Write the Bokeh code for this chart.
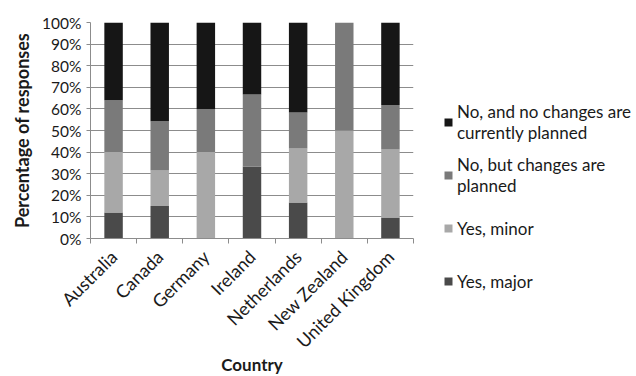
from bokeh.plotting import figure
from bokeh.models import Range1d, FixedTicker, PrintfTickFormatter, Legend, LegendItem
from bokeh.embed import file_html
from bokeh.resources import INLINE
import math

countries = ["Australia", "Canada", "Germany", "Ireland", "Netherlands", "New Zealand", "United Kingdom"]
yes_major = [12, 15, 0, 33.3, 16.7, 0, 9.7]
yes_minor = [28, 16.5, 40, 0, 25, 50, 31.5]
no_planned = [24, 22.8, 20, 33.4, 16.6, 50, 20.6]
no_none = [36, 45.7, 40, 33.3, 41.7, 0, 38.2]
y_ticks = list(range(0, 101, 10))

series = ["yes_major", "yes_minor", "no_planned", "no_none"]
labels = ["Yes, major", "Yes, minor", "No, but changes are\nplanned", "No, and no changes are\ncurrently planned"]
colors = ["#4a4a4a", "#a8a8a8", "#7a7a7a", "#161616"]

FONT = "Lato"
x = [i + 0.5 for i in range(len(countries))]
data = dict(x=x, yes_major=yes_major, yes_minor=yes_minor, no_planned=no_planned, no_none=no_none)

p = figure(frame_width=323, frame_height=216, output_backend="svg", toolbar_location=None,
           x_range=Range1d(0, len(countries)), y_range=Range1d(0, 100),
           min_border_left=90, min_border_right=223, min_border_top=22, min_border_bottom=138)
p.outline_line_color = None

rs = p.vbar_stack(series, x="x", width=0.4, color=colors, line_color=None, source=data)

items = [LegendItem(label=labels[i], renderers=[rs[i]]) for i in reversed(range(4))]
legend = Legend(items=items, location=(30, -66), padding=0, margin=0,
                border_line_color=None, background_fill_alpha=0,
                label_text_font=FONT, label_text_font_size="17px", label_text_color="#1a1a1a",
                glyph_width=10, glyph_height=10, label_standoff=4, spacing=7, label_height=46,
                label_text_line_height=1.4)
p.add_layout(legend, "right")

p.xgrid.grid_line_color = None
p.ygrid.grid_line_color = "#8c8c8c"
p.ygrid.ticker = FixedTicker(ticks=y_ticks)

xa = p.xaxis[0]
xa.ticker = FixedTicker(ticks=x, minor_ticks=list(range(len(countries) + 1)))
xa.major_label_overrides = {xi: c for xi, c in zip(x, countries)}
xa.major_label_orientation = math.pi / 4
xa.major_label_standoff = 10
xa.major_tick_out = 0
xa.major_tick_in = 0
xa.minor_tick_out = 5
xa.minor_tick_in = 0
xa.minor_tick_line_color = "#8c8c8c"
xa.axis_line_color = "#8c8c8c"
xa.major_label_text_font = FONT
xa.major_label_text_font_size = "18px"
xa.major_label_text_color = "#1a1a1a"
xa.axis_label = "Country"
xa.axis_label_text_font = FONT
xa.axis_label_text_font_size = "17px"
xa.axis_label_text_font_style = "bold"
xa.axis_label_text_color = "#1a1a1a"
xa.axis_label_standoff = -9

ya = p.yaxis[0]
ya.ticker = FixedTicker(ticks=y_ticks)
ya.formatter = PrintfTickFormatter(format="%d%%")
ya.major_tick_out = 4
ya.major_tick_in = 0
ya.minor_tick_line_color = None
ya.major_tick_line_color = "#8c8c8c"
ya.axis_line_color = "#8c8c8c"
ya.major_label_text_font = FONT
ya.major_label_text_font_size = "15.5px"
ya.major_label_text_color = "#1a1a1a"
ya.axis_label = "Percentage of responses"
ya.axis_label_text_font = FONT
ya.axis_label_text_font_size = "18px"
ya.axis_label_text_font_style = "bold"
ya.axis_label_text_color = "#1a1a1a"
ya.axis_label_standoff = 6

open("out.html", "w").write(file_html(p, INLINE))
